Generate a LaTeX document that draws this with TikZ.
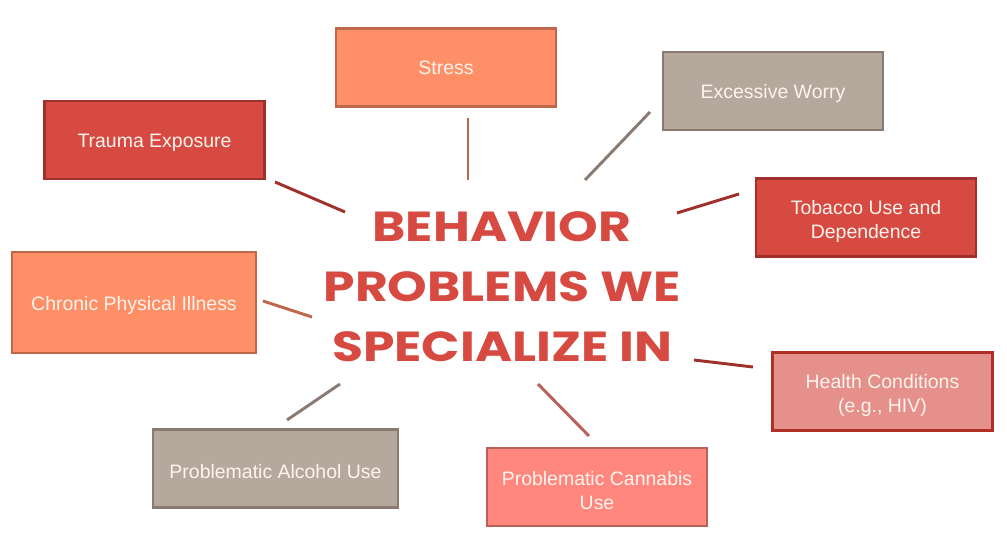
\documentclass[tikz,border=0pt]{standalone}
\usepackage{fontspec}
\setmainfont{Liberation Sans}
\newfontfamily\titlefont{Poppins}[FakeStretch=1.2]
\usetikzlibrary{positioning}

\definecolor{coralfill}{HTML}{FF8F66}
\definecolor{coralline}{HTML}{C0664A}
\definecolor{redfill}{HTML}{D64A41}
\definecolor{redline}{HTML}{A0302B}
\definecolor{taupefill}{HTML}{B5A89C}
\definecolor{taupeline}{HTML}{8A7B72}
\definecolor{pinkfill}{HTML}{E5908A}
\definecolor{pinkline}{HTML}{B03028}
\definecolor{salmonfill}{HTML}{FF877D}
\definecolor{salmonline}{HTML}{B8605A}
\definecolor{boxtext}{HTML}{FFF4EE}

\begin{document}
\begin{tikzpicture}[x=0.75pt,y=-0.75pt,
  box/.style={draw,line width=2.2pt,minimum width=165pt,minimum height=58.5pt,
    align=center,text=boxtext,font=\fontsize{14.6}{18}\selectfont,inner sep=2pt},
  link/.style={line width=2.2pt}]
  \useasboundingbox (0,0) rectangle (1007,560);
  \node[box,fill=coralfill,draw=coralline] (stress) at (446,67.5) {Stress};
  \node[box,fill=redfill,draw=redline] (trauma) at (154.5,140) {\rule{0pt}{15pt}Trauma Exposure};
  \node[box,fill=taupefill,draw=taupeline] (worry) at (773,91) {\rule{0pt}{15pt}Excessive Worry};
  \node[box,fill=redfill,draw=redline] (tobacco) at (866,217.5) {\rule{0pt}{16pt}Tobacco Use and\\Dependence};
  \node[box,fill=coralfill,draw=coralline,minimum width=183pt,minimum height=75.75pt] (chronic) at (134,302.5) {\rule{0pt}{15pt}Chronic Physical Illness};
  \node[box,fill=pinkfill,draw=pinkline] (health) at (882.5,391.5) {\rule{0pt}{16pt}Health Conditions\\(e.g., HIV)};
  \node[box,fill=taupefill,draw=taupeline,minimum width=183.75pt] (alcohol) at (275.5,468.5) {\rule{0pt}{15pt}Problematic Alcohol Use};
  \node[box,fill=salmonfill,draw=salmonline] (cannabis) at (597,487) {\rule{0pt}{16pt}Problematic Cannabis\\Use};
  \node[align=center,text=redfill,font=\titlefont\bfseries\fontsize{31.5}{45}\selectfont] (title) at (502,287)
    {BEHAVIOR\\PROBLEMS WE\\SPECIALIZE IN};
  % free ends of the spokes
  \coordinate (stress-a) at (468,118);   \coordinate (stress-b) at (468,180);
  \coordinate (trauma-a) at (275,182);   \coordinate (trauma-b) at (345,212);
  \coordinate (worry-a) at (650,112);    \coordinate (worry-b) at (585,180);
  \coordinate (tobacco-a) at (739,194);  \coordinate (tobacco-b) at (677,213);
  \coordinate (chronic-a) at (263,301);  \coordinate (chronic-b) at (312,317);
  \coordinate (health-a) at (753,367);   \coordinate (health-b) at (694,360);
  \coordinate (alcohol-a) at (287,420);  \coordinate (alcohol-b) at (340,384);
  \coordinate (cannabis-a) at (589,436); \coordinate (cannabis-b) at (538,384);
  \draw[link,coralline] (stress-a) -- (stress-b);
  \draw[link,redline] (trauma-a) -- (trauma-b);
  \draw[link,taupeline] (worry-a) -- (worry-b);
  \draw[link,redline] (tobacco-a) -- (tobacco-b);
  \draw[link,coralline] (chronic-a) -- (chronic-b);
  \draw[link,redline] (health-a) -- (health-b);
  \draw[link,taupeline] (alcohol-a) -- (alcohol-b);
  \draw[link,salmonline] (cannabis-a) -- (cannabis-b);
\end{tikzpicture}
\end{document}
